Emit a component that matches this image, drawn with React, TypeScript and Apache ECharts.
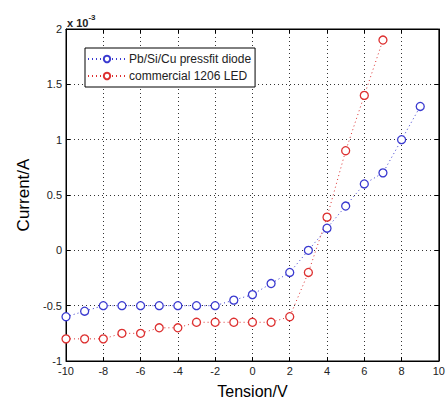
import React, { useEffect, useRef } from "react";
import * as echarts from "echarts";

const tension = [-10, -9, -8, -7, -6, -5, -4, -3, -2, -1, 0, 1, 2, 3, 4, 5, 6, 7, 8, 9];
const diodeCurrent = [-0.6, -0.55, -0.5, -0.5, -0.5, -0.5, -0.5, -0.5, -0.5, -0.45, -0.4, -0.3, -0.2, 0, 0.2, 0.4, 0.6, 0.7, 1.0, 1.3];
const ledTension = [-10, -9, -8, -7, -6, -5, -4, -3, -2, -1, 0, 1, 2, 3, 4, 5, 6, 7];
const ledCurrent = [-0.8, -0.8, -0.8, -0.75, -0.75, -0.7, -0.7, -0.65, -0.65, -0.65, -0.65, -0.65, -0.6, -0.2, 0.3, 0.9, 1.4, 1.9];
const seriesNames = ["Pb/Si/Cu pressfit diode", "commercial 1206 LED"];
const seriesColors = ["#3a3ad0", "#dd3030"];

export default function App() {
  const ref = useRef<HTMLDivElement>(null);
  useEffect(() => {
    if (!ref.current) return;
    const chart = echarts.init(ref.current, null, { renderer: "svg" });
    const font = "Arial, 'Liberation Sans', sans-serif";
    const mk = (xs: number[], ys: number[], i: number) => ({
      name: seriesNames[i],
      type: "line",
      data: xs.map((x, k) => [x, ys[k]]),
      symbol: "circle",
      symbolSize: 8,
      itemStyle: { color: "#fff", borderColor: seriesColors[i], borderWidth: 1.3 },
      lineStyle: { color: seriesColors[i], width: 1, type: [1, 3] },
      z: 5,
    });
    const axisCommon = {
      axisLine: { show: true, onZero: false, lineStyle: { color: "#000", width: 1 } },
      axisTick: { show: true, inside: true, length: 4, lineStyle: { color: "#000" } },
      axisLabel: { color: "#222", fontSize: 11, fontFamily: font },
      splitLine: { show: true, lineStyle: { color: "#333", width: 1, type: [1, 3] } },
    };
    const mirror = {
      axisLine: { show: true, onZero: false, lineStyle: { color: "#000" } },
      axisTick: { show: true, inside: true, length: 4, lineStyle: { color: "#000" } },
      axisLabel: { show: false },
      splitLine: { show: false },
    };
    chart.setOption({
      animation: false,
      backgroundColor: "#fff",
      title: {
        text: "{a|x 10}{b|-3}",
        left: 62,
        top: 6,
        textStyle: {
          rich: {
            a: { fontSize: 11, color: "#222", fontFamily: font, padding: [6, 0, 0, 0] },
            b: { fontSize: 8, color: "#222", fontFamily: font, padding: [0, 0, 4, 0] },
          },
        },
      },
      legend: {
        left: 85,
        top: 48,
        orient: "vertical",
        backgroundColor: "#fff",
        borderColor: "#000",
        borderWidth: 1,
        borderRadius: 0,
        padding: [5, 4, 5, 2],
        itemGap: 5,
        itemWidth: 38,
        itemHeight: 8,
        textStyle: { fontSize: 12, color: "#222", fontFamily: font, padding: [0, 0, 0, -2] },
        data: seriesNames,
      },
      grid: { left: 66, right: 6, top: 29, bottom: 38, show: true, borderColor: "#000", borderWidth: 1 },
      xAxis: [
        {
          type: "value",
          min: -10,
          max: 10,
          interval: 2,
          name: "Tension/V",
          nameLocation: "middle",
          nameGap: 22,
          nameTextStyle: { fontSize: 16, color: "#000", fontFamily: font },
          ...axisCommon,
          axisLabel: { ...axisCommon.axisLabel, margin: 4 },
        },
        { type: "value", position: "top", min: -10, max: 10, interval: 2, ...mirror },
      ],
      yAxis: [
        {
          type: "value",
          min: -1,
          max: 2,
          interval: 0.5,
          name: "Current/A",
          nameLocation: "middle",
          nameGap: 34,
          nameRotate: 90,
          nameTextStyle: { fontSize: 17, color: "#000", fontFamily: font },
          ...axisCommon,
          axisLabel: { ...axisCommon.axisLabel, margin: 4 },
        },
        { type: "value", position: "right", min: -1, max: 2, interval: 0.5, ...mirror },
      ],
      series: [mk(tension, diodeCurrent, 0), mk(ledTension, ledCurrent, 1)],
    });
    return () => chart.dispose();
  }, []);
  return (
    <div
      ref={ref}
      style={{ position: "fixed", left: 0, top: 0, width: 448, height: 404, background: "#fff" }}
    />
  );
}
